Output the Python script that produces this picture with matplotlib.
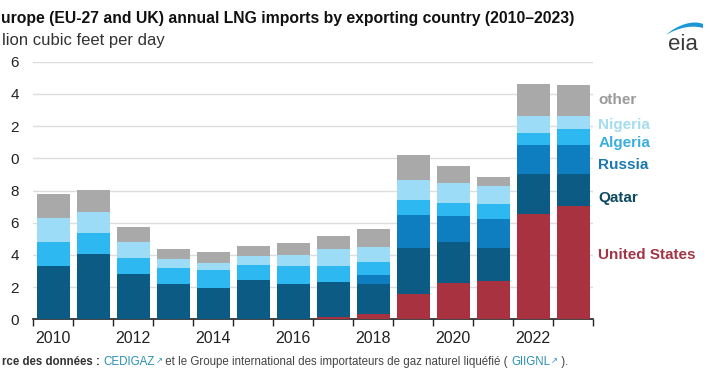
import matplotlib
matplotlib.use("Agg")
import matplotlib.pyplot as plt
import numpy as np
from matplotlib.path import Path
from matplotlib.patches import PathPatch

plt.rcParams['font.family'] = ['Liberation Sans', 'DejaVu Sans']

years = list(range(2010, 2024))
united_states = [0, 0, 0, 0, 0, 0, 0, 0.12, 0.33, 1.59, 2.23, 2.35, 6.52, 7.06]
qatar = [3.33, 4.05, 2.81, 2.19, 1.94, 2.46, 2.19, 2.22, 1.86, 2.86, 2.59, 2.10, 2.50, 1.96]
russia = [0, 0, 0, 0, 0, 0, 0, 0, 0.56, 2.03, 1.62, 1.78, 1.82, 1.82]
algeria = [1.48, 1.28, 0.97, 0.99, 1.14, 0.89, 1.10, 0.97, 0.83, 0.93, 0.76, 0.96, 0.75, 0.96]
nigeria = [1.47, 1.36, 1.03, 0.54, 0.39, 0.60, 0.72, 1.03, 0.93, 1.24, 1.25, 1.07, 1.05, 0.80]
other = [1.49, 1.33, 0.91, 0.64, 0.72, 0.60, 0.70, 0.83, 1.10, 1.57, 1.05, 0.60, 1.97, 1.95]

series_names = ["United States", "Qatar", "Russia", "Algeria", "Nigeria", "other"]
series_values = [united_states, qatar, russia, algeria, nigeria, other]
bar_colors = ["#a83240", "#0b5b84", "#0f7ec0", "#2db8f2", "#9ddcf7", "#a9a9a9"]
label_colors = ["#a13646", "#0e4a60", "#1a78b0", "#3aaee0", "#a6dcf0", "#9a9a9a"]
label_y_values = [4.0, 7.55, 9.6, 10.95, 12.05, 13.6]

y_ticks = [0, 2, 4, 6, 8, 10, 12, 14, 16]
y_tick_labels_shown = ["0", "2", "4", "6", "8", "0", "2", "4", "6"]
x_tick_years = [2010, 2012, 2014, 2016, 2018, 2020, 2022]

title_text = "urope (EU-27 and UK) annual LNG imports by exporting country (2010\u20132023)"
subtitle_text = "lion cubic feet per day"

W, H = 712, 385
fig = plt.figure(figsize=(W / 100, H / 100), dpi=100)
ax = fig.add_axes([33 / W, 1 - 319.3 / H, 560 / W, (319.3 - 61.7) / H])

x = np.arange(len(years))
bottom = np.zeros(len(years))
for vals, col in zip(series_values, bar_colors):
    ax.bar(x, vals, width=0.825, bottom=bottom, color=col, zorder=3, linewidth=0)
    bottom += np.array(vals)

ax.set_xlim(-0.5, len(years) - 0.5)
ax.set_ylim(0, 16)
ax.set_yticks(y_ticks)
ax.set_yticklabels(y_tick_labels_shown, fontsize=11, color="#222222")
ax.tick_params(axis='y', length=0, pad=10)
ax.yaxis.grid(True, color="#dddddd", linewidth=1.0, zorder=0)
ax.set_axisbelow(True)

ax.set_xticks(np.arange(-0.5, len(years), 1.0))
ax.set_xticklabels([])
ax.tick_params(axis='x', which='major', length=5, width=1.0, color="#222222", direction='out')
for yr in x_tick_years:
    ax.text(years.index(yr), -0.72, str(yr), ha='center', va='top', fontsize=11.5,
            color="#222222", transform=ax.transData)

for s in ['left', 'right', 'top']:
    ax.spines[s].set_visible(False)
ax.spines['bottom'].set_color("#222222")
ax.spines['bottom'].set_linewidth(1.2)

# series labels on right
for name, col, yv in zip(series_names, label_colors, label_y_values):
    ax.text(len(years) - 0.5 + 0.13, yv, name, color=col, fontsize=11,
            fontweight='bold', ha='left', va='center', clip_on=False)

# title & subtitle (as visible in the reference)
fig.text(1 / W, 1 - 18 / H, title_text,
         fontsize=11.3, fontweight='bold', color="#111111", ha='left', va='center')
fig.text(2 / W, 1 - 41 / H, subtitle_text, fontsize=12, color="#333333",
         ha='left', va='center')

# eia logo
fig.text(683 / W, 1 - 44 / H, "eia", fontsize=16, color="#3a3a3a", ha='center', va='center')
verts = [(666, 35), (678, 24), (694, 20), (703, 24),
         (703, 28), (703, 28),
         (693, 25), (679, 27), (666, 35)]
codes = [Path.MOVETO, Path.CURVE4, Path.CURVE4, Path.CURVE4,
         Path.LINETO, Path.LINETO,
         Path.CURVE4, Path.CURVE4, Path.CURVE4]
verts_fig = [(vx / W, 1 - vy / H) for vx, vy in verts]
fig.patches.append(PathPatch(Path(verts_fig, codes), transform=fig.transFigure,
                             facecolor="#1a98d5", edgecolor="none"))

# source line
fig.canvas.draw()
renderer = fig.canvas.get_renderer()
parts = [("rce des donn\u00e9es : ", "#333333", 'bold'),
         ("CEDIGAZ", "#2a8fb0", 'normal'),
         ("\u2197", "#2a8fb0", 'normal'),
         (" et le Groupe international des importateurs de gaz naturel liqu\u00e9fi\u00e9 ( ", "#444444", 'normal'),
         ("GIIGNL", "#2a8fb0", 'normal'),
         ("\u2197", "#2a8fb0", 'normal'),
         (" ).", "#444444", 'normal')]
xpos = 2.0
ypos = 1 - 362 / H
for txt, col, wt in parts:
    fs = 6 if txt == "\u2197" else 8.3
    t = fig.text(xpos / W, ypos, txt, fontsize=fs, color=col, fontweight=wt, ha='left', va='center')
    bb = t.get_window_extent(renderer=renderer)
    xpos += bb.width + (1 if txt in ("CEDIGAZ", "GIIGNL") else 0)

fig.savefig("out.png", dpi=100)
